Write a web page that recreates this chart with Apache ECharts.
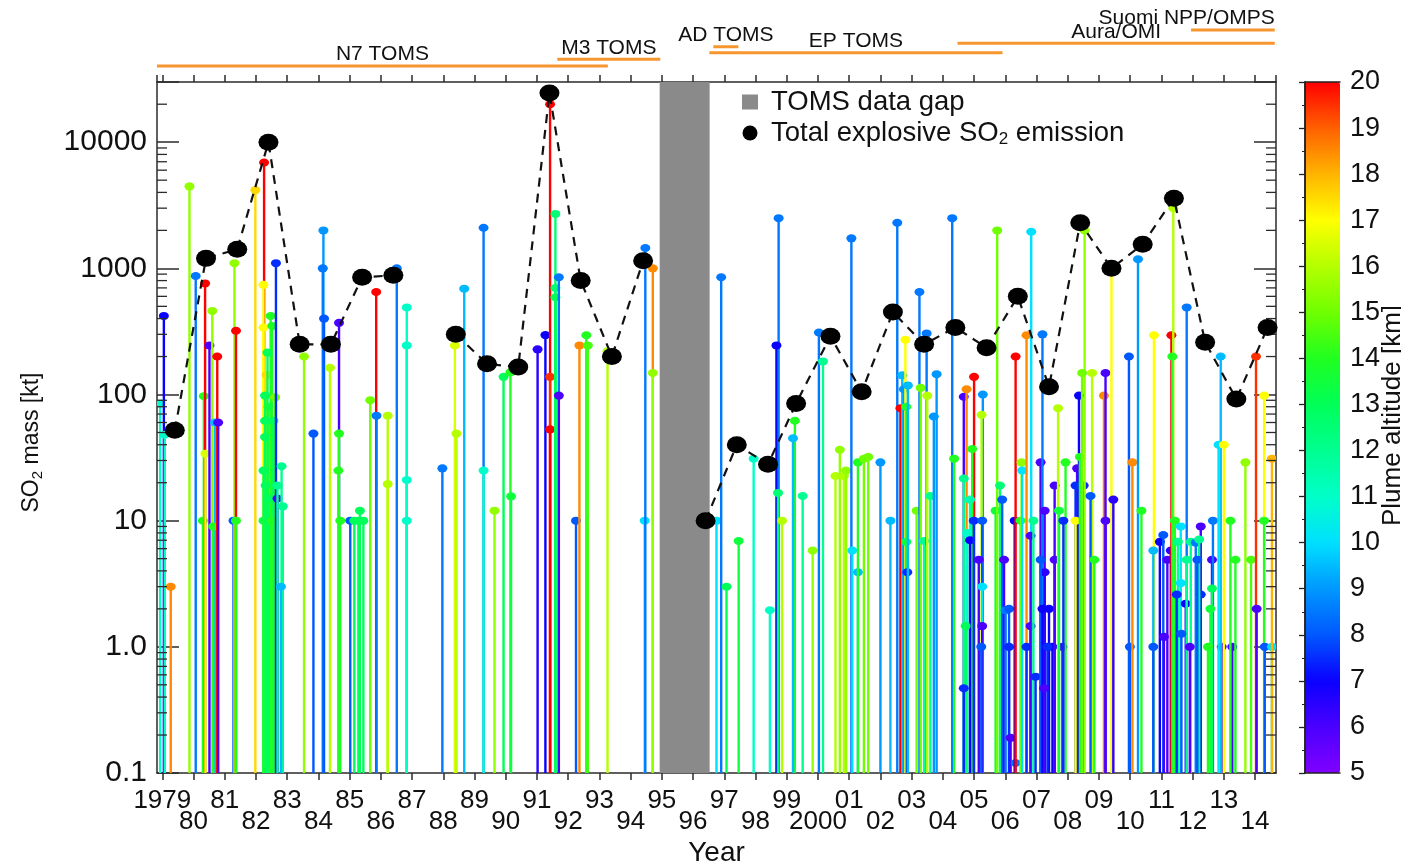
<!DOCTYPE html>
<html>
<head>
<meta charset="utf-8">
<script src="https://cdn.jsdelivr.net/npm/echarts@6/dist/echarts.min.js"></script>
<style>
html,body{margin:0;padding:0;background:#ffffff;}
#chart{width:1401px;height:863px;}
</style>
</head>
<body>
<div id="chart"></div>
<script>
// ---------------- DATA ----------------
// Individual explosive eruptions: [decimal year, SO2 mass (kt), plume altitude (km)]
const eruptions = [
 [1978.93, 85, 11], [1979.05, 420, 7], [1979.08, 48, 11], [1979.27, 3, 18.5], [1979.87, 4470, 15.5],
 [1980.07, 870, 8.5], [1980.33, 97, 14], [1980.30, 10, 14], [1980.37, 760, 20], [1980.38, 34, 16.5],
 [1980.51, 245, 6], [1980.60, 460, 15.5], [1980.69, 60, 9.5], [1980.63, 9, 14], [1980.76, 200, 20],
 [1980.79, 60, 6], [1981.28, 10, 8], [1981.31, 1100, 15.5], [1981.36, 320, 20], [1981.36, 10, 14],
 [1981.98, 4170, 17.5], [1982.26, 6900, 20], [1982.24, 740, 17], [1982.24, 340, 17], [1982.34, 143, 17.5],
 [1982.47, 420, 14], [1982.52, 350, 14], [1982.37, 215, 13], [1982.29, 98, 13], [1982.40, 80, 13.5],
 [1982.61, 95, 15], [1982.29, 62, 13], [1982.56, 62, 13], [1982.29, 46, 13], [1982.24, 25, 13],
 [1982.31, 19, 13], [1982.40, 15, 13], [1982.24, 10, 13.5], [1982.40, 10, 13], [1982.50, 10, 14],
 [1982.64, 1100, 7.5], [1982.69, 15, 6], [1982.82, 27, 12], [1982.69, 19, 12], [1982.86, 13, 12],
 [1982.80, 3, 9.5], [1983.54, 200, 15.5], [1983.84, 49, 8], [1984.16, 2000, 9], [1984.14, 1000, 8.5],
 [1984.18, 400, 8], [1984.37, 163, 16], [1984.66, 370, 6], [1984.66, 49, 14], [1984.64, 25, 14],
 [1984.70, 10, 14], [1985.02, 10, 8], [1985.15, 10, 13], [1985.28, 10, 13], [1985.33, 12, 13],
 [1985.44, 10, 13], [1985.66, 90, 15], [1985.85, 650, 20], [1985.86, 68, 8.5], [1986.22, 68, 16],
 [1986.22, 19.5, 16], [1986.51, 1000, 8.5], [1986.83, 490, 11], [1986.83, 245, 11], [1986.83, 21, 11],
 [1986.83, 10, 11], [1987.97, 26, 8.5], [1988.37, 245, 16.5], [1988.42, 49, 16], [1988.67, 690, 9.5],
 [1989.29, 2100, 8.5], [1989.29, 25, 11], [1989.64, 12, 15.5], [1989.93, 138, 13], [1990.15, 150, 14],
 [1990.17, 15.6, 13.5], [1991.02, 228, 6.5], [1991.27, 296, 7], [1991.42, 20000, 20], [1991.42, 138, 19.5],
 [1991.42, 53, 20], [1991.59, 2700, 12.5], [1991.59, 700, 12.5], [1991.59, 590, 13], [1991.70, 850, 8.5],
 [1991.70, 98, 6], [1992.25, 10, 8], [1992.36, 245, 18.5], [1992.58, 295, 14], [1992.63, 245, 14.5],
 [1993.26, 220, 16], [1994.45, 10, 10], [1994.47, 1450, 8.5], [1994.71, 1000, 18.5], [1994.71, 148, 15.5],
 [1996.75, 10, 10], [1996.90, 850, 8.5], [1997.07, 3, 13], [1997.46, 6.9, 13.5], [1997.94, 31, 11],
 [1998.46, 1.95, 11], [1998.74, 2500, 8.5], [1998.67, 245, 7], [1998.72, 16.6, 12.5], [1998.85, 10, 16],
 [1999.26, 62, 14], [1999.20, 45, 9.5], [1999.51, 15.7, 12], [1999.83, 5.8, 15.5], [2000.03, 310, 8.5],
 [2000.16, 183, 12], [2000.56, 22.6, 16], [2000.70, 36.5, 15.5], [2000.83, 22.6, 16], [2000.90, 25, 15.5],
 [2001.07, 1730, 8.5], [2001.10, 5.8, 10], [2001.28, 3.9, 9.5], [2001.28, 29, 14], [2001.47, 31, 15],
 [2001.61, 32, 15], [2002.00, 29, 9], [2002.32, 10, 9.5], [2002.54, 2300, 8.5], [2002.64, 78, 20],
 [2002.70, 142, 9.5], [2002.75, 110, 9], [2002.80, 272, 17], [2002.83, 80, 14], [2002.83, 6.8, 13.5],
 [2002.86, 3.9, 7.5], [2002.88, 118, 9.5], [2003.16, 12, 15], [2003.25, 650, 8.5], [2003.29, 113, 15],
 [2003.40, 6.9, 12], [2003.48, 305, 8.5], [2003.50, 98, 16], [2003.60, 15.7, 12], [2003.71, 67, 9],
 [2003.80, 145, 9], [2004.30, 2500, 8.5], [2004.36, 31, 14], [2004.67, 96, 6], [2004.76, 110, 18.5],
 [2005.00, 138, 20], [2005.28, 100, 9], [2005.24, 69, 16], [2004.94, 37, 14], [2004.67, 21.6, 12],
 [2004.87, 14.7, 11.5], [2004.78, 8, 11], [2004.87, 7, 7], [2004.99, 10, 7.5], [2005.26, 10, 8],
 [2005.15, 4.9, 6], [2005.26, 3, 10], [2004.73, 1.46, 13], [2005.26, 1.46, 6], [2005.23, 1, 8],
 [2004.67, 0.47, 7.5], [2005.69, 12, 13.5], [2005.74, 2000, 15], [2005.83, 19, 12.5], [2005.90, 14.7, 8],
 [2005.96, 4.9, 6], [2006.01, 1.95, 8.5], [2006.12, 2, 8], [2006.12, 1, 7.5], [2006.17, 0.19, 6],
 [2006.33, 0.12, 8.5], [2006.30, 10, 7], [2006.33, 200, 20], [2006.49, 10, 14], [2006.52, 29, 15.5],
 [2006.54, 25, 10], [2006.68, 295, 18.5], [2006.68, 1, 7.5], [2006.81, 1.46, 6], [2006.83, 1950, 10],
 [2006.81, 7.6, 6], [2006.90, 10, 12], [2006.97, 0.58, 7.5], [2007.13, 29, 6], [2007.19, 300, 8.5],
 [2007.26, 12, 6], [2007.26, 3.9, 6.5], [2007.13, 4.9, 8], [2007.19, 2.0, 7], [2007.40, 2.0, 7],
 [2007.51, 1, 7], [2007.35, 1, 7.5], [2007.24, 0.47, 6], [2007.58, 19, 6], [2007.58, 4.9, 6],
 [2007.83, 1, 6], [2007.69, 78, 16], [2007.93, 29, 14], [2007.72, 12, 13.5], [2007.86, 10, 7.5],
 [2008.36, 98, 7], [2008.30, 26, 6], [2008.25, 19, 7.5], [2008.51, 19, 7.5], [2008.25, 10, 17],
 [2008.39, 32, 14], [2008.54, 2000, 15.5], [2008.46, 148, 15], [2008.78, 148, 16], [2008.73, 15.7, 8],
 [2008.85, 4.9, 14], [2009.16, 98, 18.5], [2009.21, 148, 6], [2009.21, 10, 6], [2009.40, 950, 17],
 [2009.46, 14.7, 6.5], [2009.96, 200, 8], [2009.99, 1, 8], [2010.07, 29, 18.5], [2010.25, 1180, 9],
 [2010.36, 12, 14], [2010.76, 295, 17], [2010.74, 5.8, 9.5], [2010.74, 1, 8], [2010.95, 6.8, 7],
 [2011.06, 7.7, 8], [2011.08, 1.2, 6], [2011.19, 4.9, 6], [2011.30, 5.8, 6.5], [2011.32, 295, 20],
 [2011.38, 3000, 16], [2011.35, 200, 14], [2011.43, 10, 14], [2011.62, 9, 10], [2011.53, 6.8, 12],
 [2011.62, 3.2, 10], [2011.49, 2.6, 7.5], [2011.78, 2.2, 7], [2011.81, 490, 8.5], [2011.81, 4.9, 12],
 [2011.64, 1.27, 8], [2011.94, 6.8, 12], [2012.10, 6.7, 8.5], [2012.26, 9, 6], [2012.26, 2.6, 7.5],
 [2012.21, 7.1, 12], [2011.91, 1, 6], [2012.15, 4.9, 8], [2012.62, 4.9, 6], [2012.65, 10, 8.5],
 [2012.62, 2.9, 13], [2012.57, 2.0, 13.5], [2012.49, 1, 14], [2012.93, 1, 6], [2013.27, 1, 6],
 [2012.90, 200, 9.5], [2012.83, 40, 10], [2013.00, 40, 17], [2013.21, 10, 14], [2013.37, 4.9, 14],
 [2013.69, 29, 15.5], [2013.87, 4.9, 14.5], [2014.03, 200, 19.5], [2014.05, 2, 6], [2014.29, 98, 17],
 [2014.29, 10, 14], [2014.31, 1, 8], [2014.54, 1, 10], [2014.54, 31, 18]
];

// Total explosive SO2 emission per year (null = no point / line break)
const totalYears = [1979.4,1980.4,1981.4,1982.4,1983.4,1984.4,1985.4,1986.4,1987.4,1988.4,1989.4,1990.4,
  1991.4,1992.4,1993.4,1994.4,1995.4,1996.4,1997.4,1998.4,1999.3,2000.4,2001.4,2002.4,2003.4,2004.4,
  2005.4,2006.4,2007.4,2008.4,2009.4,2010.4,2011.4,2012.4,2013.4,2014.4];
const totalMass = [52,1200,1420,10000,250,250,850,880,null,300,175,165,
  24500,800,200,1150,null,10,40,28,85,290,105,450,250,340,
  235,600,115,2300,1000,1550,3600,260,92,340];

// Satellite instrument records
const satNames = ['N7 TOMS','M3 TOMS','EP TOMS','AD TOMS','Aura/OMI','Suomi NPP/OMPS'];
const satStart = [1978.83, 1991.65, 1996.52, 1996.65, 2004.47, 2011.95];
const satEnd   = [1993.27, 1994.95, 2005.91, 1997.45, 2014.63, 2014.63];
const satTrack = [2, 2.95, 3.9, 4.75, 5.25, 7.15];

// TOMS data gap
const gapStart = [1994.93];
const gapEnd = [1996.53];

// Axis ranges and tick labels
const X_MIN = 1978.83, X_MAX = 2014.67;
const Y_MIN = 0.1, Y_MAX = 30000;
const ALT_MIN = 5, ALT_MAX = 20;
const yTickLabels = {'-1':'0.1','0':'1.0','1':'10','2':'100','3':'1000','4':'10000'};
const minorTickValues = [];
for (let e = -1; e <= 4; e++) for (let m = 2; m <= 9; m++) { const v = m * Math.pow(10, e); if (v < Y_MAX) minorTickValues.push([X_MIN, v]); }

// ---------------- STYLE ----------------
const FONT = 'Liberation Sans, Arial, Helvetica, sans-serif';
const AXIS_COL = '#2b2b2b';
const altitudeColors = ['#8000ff','#4a00ff','#0a00ff','#0058ff','#0098ff','#00e0ff','#00ffc8','#00ff90',
  '#00ff58','#20ff20','#70ff00','#b4ff00','#ffff00','#ffb400','#ff6000','#ff0000'];
const satColor = '#f7962e';
const satAlign = {'Suomi NPP/OMPS':'right'};

const chart = echarts.init(document.getElementById('chart'), null, {renderer:'canvas'});

function yearLabel(v){
  if (Math.abs(v - Math.round(v)) > 1e-6) return '';
  const y = Math.round(v);
  const s = (y === 1979 || y === 2000) ? String(y) : String(y % 100).padStart(2,'0');
  return (y % 2 === 1) ? s : '\n' + s;
}

const option = {
  animation: false,
  backgroundColor: '#ffffff',
  textStyle: {fontFamily: FONT, color: '#111'},
  grid: [
    {left: 157, top: 82, width: 1119, height: 691, outerBoundsMode:'none', containLabel:false},
    {left: 157, top: 10, width: 1119, height: 70, outerBoundsMode:'none', containLabel:false},
    {left: 1305, top: 82, width: 35, height: 691, outerBoundsMode:'none', containLabel:false}
  ],
  xAxis: [
    {gridIndex:0, type:'value', min:X_MIN, max:X_MAX, minInterval:1, maxInterval:1, splitNumber:36,
     axisLine:{show:true, lineStyle:{color:AXIS_COL, width:1.5}},
     axisTick:{show:true, inside:false, length:7, lineStyle:{color:AXIS_COL, width:1.5}},
     splitLine:{show:false},
     axisLabel:{formatter:yearLabel, fontSize:26, lineHeight:21, margin:17, color:'#111', fontFamily:FONT, showMinLabel:false, showMaxLabel:false},
     name:'Year', nameLocation:'middle', nameGap:66, nameTextStyle:{fontSize:28, color:'#111', fontFamily:FONT}},
    {gridIndex:0, type:'value', position:'top', min:X_MIN, max:X_MAX, minInterval:1, maxInterval:1, splitNumber:36,
     axisLine:{show:true, lineStyle:{color:AXIS_COL, width:1.5}},
     axisTick:{show:true, inside:false, length:7, lineStyle:{color:AXIS_COL, width:1.5}},
     axisLabel:{show:false}, splitLine:{show:false}},
    {gridIndex:1, type:'value', min:X_MIN, max:X_MAX, show:false},
    {gridIndex:2, type:'value', min:0, max:1, z:10, axisLine:{show:true, lineStyle:{color:'#222', width:1.5}},
     axisTick:{show:false}, axisLabel:{show:false}, splitLine:{show:false}},
    {gridIndex:2, type:'value', position:'top', min:0, max:1, z:10, axisLine:{show:true, lineStyle:{color:'#222', width:1.5}},
     axisTick:{show:false}, axisLabel:{show:false}, splitLine:{show:false}}
  ],
  yAxis: [
    {gridIndex:0, type:'log', min:Y_MIN, max:Y_MAX, logBase:10, splitNumber:5,
     axisLine:{show:true, lineStyle:{color:AXIS_COL, width:1.5}},
     axisTick:{show:true, inside:true, length:22, lineStyle:{color:AXIS_COL, width:1.5}},
     splitLine:{show:false},
     axisLabel:{fontSize:30, color:'#111', margin:10, fontFamily:FONT,
       formatter:function(v){ const l = Math.log10(v); const r = Math.round(l); return Math.abs(l-r) < 1e-6 ? (yTickLabels[String(r)] || '') : ''; }},
     name:'{a|SO}{b|2}{a| mass [kt]}', nameLocation:'middle', nameGap:112, nameRotate:90,
     nameTextStyle:{color:'#111', fontFamily:FONT, padding:[0,30,0,0],
       rich:{a:{fontSize:23, lineHeight:26, fontFamily:FONT, color:'#111'}, b:{fontSize:15, lineHeight:12, verticalAlign:'bottom', fontFamily:FONT, color:'#111'}}}},
    {gridIndex:0, type:'log', position:'right', min:Y_MIN, max:Y_MAX, logBase:10, splitNumber:5,
     axisLine:{show:true, lineStyle:{color:AXIS_COL, width:1.5}},
     axisTick:{show:true, inside:true, length:22, lineStyle:{color:AXIS_COL, width:1.5}},
     axisLabel:{show:false}, splitLine:{show:false}},
    {gridIndex:1, type:'value', min:0, max:10, show:false},
    {gridIndex:2, type:'value', min:ALT_MIN, max:ALT_MAX, z:10, axisLine:{show:true, lineStyle:{color:'#222', width:1.5}},
     axisTick:{show:false}, axisLabel:{show:false}, splitLine:{show:false}},
    {gridIndex:2, type:'value', position:'right', min:ALT_MIN, max:ALT_MAX, interval:1, z:10,
     axisLine:{show:true, lineStyle:{color:'#222', width:1.5}},
     axisTick:{show:true, inside:true, length:6, lineStyle:{color:'#222', width:1.3}},
     minorTick:{show:true, splitNumber:2, length:3, lineStyle:{color:'#222', width:1}},
     splitLine:{show:false},
     axisLabel:{fontSize:27, color:'#111', margin:10, fontFamily:FONT},
     name:'Plume altitude [km]', nameLocation:'middle', nameGap:40, nameRotate:90, nameMoveOverlap:false,
     nameTextStyle:{fontSize:26, color:'#111', fontFamily:FONT, padding:[0,0,0,24]}}
  ],
  visualMap: [{
    type:'continuous', seriesIndex:1, dimension:2, min:ALT_MIN, max:ALT_MAX,
    orient:'vertical', left:1305, top:82, itemWidth:35, itemHeight:691, padding:0,
    calculable:false, hoverLink:false, text:null, showLabel:false,
    inRange:{color:altitudeColors}, textStyle:{color:'transparent'}
  }],
  legend: {
    left: 737, top: 83, orient:'vertical', itemWidth:16, itemHeight:15, itemGap:3,
    selectedMode:false,
    textStyle:{fontSize:27, color:'#111', fontFamily:FONT, padding:[0,0,0,8],
      rich:{a:{fontSize:27.5, lineHeight:29, fontFamily:FONT, color:'#111'}, b:{fontSize:17, lineHeight:12, verticalAlign:'bottom', fontFamily:FONT, color:'#111'}}},
    formatter:function(name){ return name === 'Total explosive SO2 emission' ? '{a|Total explosive SO}{b|2}{a| emission}' : '{a|' + name + '}'; },
    data:[{name:'TOMS data gap', icon:'rect'}, {name:'Total explosive SO2 emission', icon:'circle'}]
  },
  series: [
    // 0: minor log ticks on left/right frame
    {type:'custom', xAxisIndex:0, yAxisIndex:0, silent:true, z:3, data:minorTickValues,
     renderItem:function(params, api){
       const cs = params.coordSys; const y = api.coord([X_MIN, api.value(1)])[1];
       return {type:'group', children:[
         {type:'line', shape:{x1:cs.x, y1:y, x2:cs.x+10, y2:y}, style:{stroke:AXIS_COL, lineWidth:1.3}},
         {type:'line', shape:{x1:cs.x+cs.width-10, y1:y, x2:cs.x+cs.width, y2:y}, style:{stroke:AXIS_COL, lineWidth:1.3}}
       ]};
     }},
    // 1: stems for individual eruptions
    {type:'custom', name:'eruptions', xAxisIndex:0, yAxisIndex:0, clip:true, silent:true, z:2,
     data:eruptions,
     renderItem:function(params, api){
       const x = api.value(0), v = api.value(1);
       const top = api.coord([x, v]); const base = api.coord([x, Y_MIN]);
       const color = api.visual('color');
       return {type:'group', children:[
         {type:'line', shape:{x1:top[0], y1:base[1], x2:top[0], y2:top[1]}, style:{stroke:color, lineWidth:2.4}},
         {type:'circle', shape:{cx:0, cy:0, r:4}, x:top[0], y:top[1], scaleX:1.25, scaleY:1, style:{fill:color}}
       ]};
     }},
    // 2: TOMS data gap
    {type:'custom', name:'TOMS data gap', xAxisIndex:0, yAxisIndex:0, z:4, silent:true,
     itemStyle:{color:'#8a8a8a'},
     data: gapStart.map((s,i)=>[s, gapEnd[i]]),
     renderItem:function(params, api){
       const p0 = api.coord([api.value(0), Y_MAX]); const p1 = api.coord([api.value(1), Y_MIN]);
       return {type:'rect', shape:{x:p0[0], y:p0[1], width:p1[0]-p0[0], height:p1[1]-p0[1]}, style:{fill:'#8a8a8a'}};
     }},
    // 3: total explosive SO2 emission
    {type:'line', name:'Total explosive SO2 emission', xAxisIndex:0, yAxisIndex:0, z:6,
     data: totalYears.map((y,i)=>[y, totalMass[i]]), connectNulls:false,
     symbol:'circle', symbolSize:[20,17], showAllSymbol:true,
     itemStyle:{color:'#000'}, lineStyle:{color:'#111', width:2.2, type:[9,7]}},
    // 4: satellite records
    {type:'custom', name:'satellites', xAxisIndex:2, yAxisIndex:2, silent:true, clip:false,
     data: satNames.map((n,i)=>[satStart[i], satEnd[i], satTrack[i], i]),
     renderItem:function(params, api){
       const i = api.value(3); const name = satNames[i];
       const p0 = api.coord([api.value(0), api.value(2)]); const p1 = api.coord([api.value(1), api.value(2)]);
       const align = satAlign[name] || 'center';
       const tx = align === 'right' ? p1[0] : (p0[0]+p1[0])/2;
       return {type:'group', children:[
         {type:'line', shape:{x1:p0[0], y1:p0[1], x2:p1[0], y2:p1[1]}, style:{stroke:satColor, lineWidth:3}},
         {type:'text', x:tx, y:p0[1]-1, style:{text:name, fill:'#111', font:'21px ' + FONT, textAlign:align, textVerticalAlign:'bottom'}}
       ]};
     }}
  ]
};
chart.setOption(option);
</script>
</body>
</html>
